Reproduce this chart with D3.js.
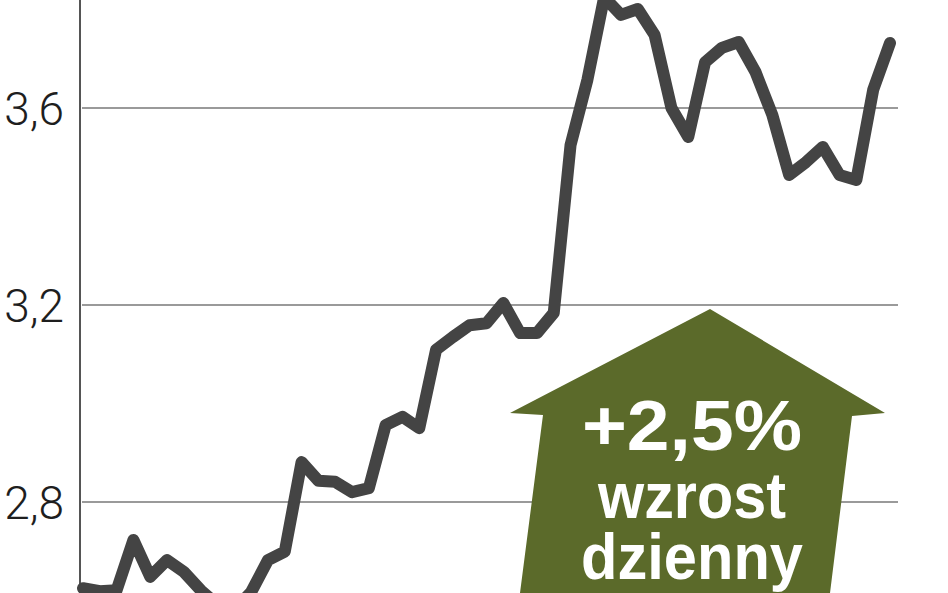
<!DOCTYPE html>
<html>
<head>
<meta charset="utf-8">
<script src="https://cdn.jsdelivr.net/npm/d3@7"></script>
<style>
  html, body { margin: 0; padding: 0; background: #fff; overflow: hidden; }
  svg { display: block; }
</style>
</head>
<body>
<svg id="chart" width="948" height="593"></svg>
<script>
// daily closing price
const prices = [
  2.625, 2.619, 2.621, 2.723, 2.648, 2.682, 2.658, 2.621, 2.591, 2.581,
  2.617, 2.682, 2.699, 2.881, 2.843, 2.841, 2.820, 2.828, 2.956, 2.973,
  2.950, 3.109, 3.135, 3.159, 3.163, 3.204, 3.143, 3.143, 3.184, 3.525,
  3.657, 3.825, 3.789, 3.801, 3.748, 3.600, 3.541, 3.693, 3.722, 3.734,
  3.673, 3.586, 3.464, 3.490, 3.521, 3.464, 3.454, 3.637, 3.732
]
const yTicks = [2.8, 3.2, 3.6]
const badgeLines = ['+2,5%', 'wzrost', 'dzienny']

const width = 948
const height = 593

const svg = d3.select('#chart')

const x = d3.scaleLinear()
  .domain([0, prices.length - 1])
  .range([83, 890])

const y = d3.scaleLinear()
  .domain([2.8, 3.6])
  .range([502, 108])

const fmt = (d) => d3.format('.1f')(d).replace('.', ',')

// gridlines
svg.append('g')
  .attr('id', 'grid')
  .selectAll('line')
  .data(yTicks)
  .join('line')
  .attr('x1', 82)
  .attr('x2', 898)
  .attr('y1', (d) => y(d))
  .attr('y2', (d) => y(d))
  .attr('stroke', '#9a9a9a')
  .attr('stroke-width', 2)

// tick labels
svg.append('g')
  .attr('id', 'labels')
  .selectAll('text')
  .data(yTicks)
  .join('text')
  .attr('x', 64)
  .attr('y', (d) => y(d) + 17)
  .attr('text-anchor', 'end')
  .attr('font-family', 'Roboto, Arial, sans-serif')
  .attr('font-weight', 300)
  .attr('font-size', 46)
  .attr('fill', '#1e1e1e')
  .text(fmt)

// axis line
svg.append('line')
  .attr('x1', 80)
  .attr('x2', 80)
  .attr('y1', 0)
  .attr('y2', height)
  .attr('stroke', '#555')
  .attr('stroke-width', 2)

// green up-arrow badge
const arrow = svg.append('g').attr('id', 'badge')
arrow.append('path')
  .attr('d', 'M710,309 L885,413 L852,416 L830,593 L520,593 L543,415 L510,413 Z')
  .attr('fill', '#5b6a2a')

const lineSpec = [
  { y: 450, size: 70, len: 220 },
  { y: 518, size: 65, len: 188 },
  { y: 579, size: 65, len: 222 },
]
arrow.selectAll('text')
  .data(badgeLines)
  .join('text')
  .attr('x', 692)
  .attr('y', (d, i) => lineSpec[i].y)
  .attr('text-anchor', 'middle')
  .attr('font-family', 'Liberation Sans, Arial, sans-serif')
  .attr('font-weight', 'bold')
  .attr('font-size', (d, i) => lineSpec[i].size)
  .attr('textLength', (d, i) => lineSpec[i].len)
  .attr('lengthAdjust', 'spacingAndGlyphs')
  .attr('fill', '#fff')
  .text((d) => d)

// price line
const line = d3.line()
  .x((d, i) => x(i))
  .y((d) => y(d))

svg.append('path')
  .datum(prices)
  .attr('d', line)
  .attr('fill', 'none')
  .attr('stroke', '#444')
  .attr('stroke-width', 12)
  .attr('stroke-linejoin', 'round')
  .attr('stroke-linecap', 'round')
</script>
</body>
</html>
